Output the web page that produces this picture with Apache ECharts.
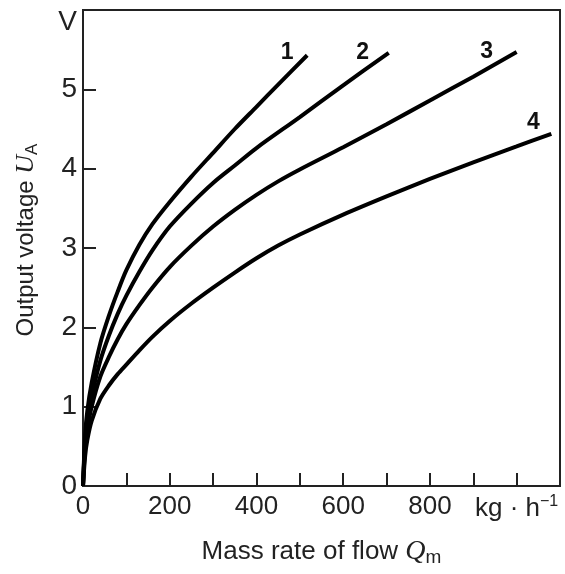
<!DOCTYPE html>
<html>
<head>
<meta charset="utf-8">
<script src="https://cdn.jsdelivr.net/npm/echarts@6/dist/echarts.min.js"></script>
<style>
  html, body { margin: 0; padding: 0; background: #fff; }
  #main { width: 565px; height: 574px; }
</style>
</head>
<body>
<div id="main"></div>
<script>
// mass flow (kg/h) vs output voltage (V)
var curve1 = [[0,0],[5,0.65],[10,0.95],[20,1.3],[40,1.8],[60,2.15],[80,2.45],[100,2.72],[130,3.04],[160,3.3],[200,3.58],[250,3.9],[300,4.2],[350,4.5],[400,4.78],[450,5.06],[517,5.43]];
var curve2 = [[0,0],[5,0.56],[10,0.82],[20,1.13],[40,1.58],[60,1.9],[80,2.17],[100,2.4],[130,2.7],[160,2.97],[200,3.27],[250,3.56],[300,3.82],[350,4.04],[400,4.26],[500,4.65],[600,5.05],[705,5.46]];
var curve3 = [[0,0],[5,0.5],[10,0.72],[20,1.0],[40,1.38],[60,1.63],[80,1.85],[100,2.04],[130,2.28],[160,2.5],[200,2.76],[250,3.03],[300,3.27],[350,3.48],[400,3.67],[450,3.84],[500,3.99],[600,4.27],[700,4.56],[800,4.86],[900,5.16],[1000,5.47]];
var curve4 = [[0,0],[5,0.38],[10,0.58],[20,0.82],[40,1.1],[60,1.27],[80,1.41],[100,1.53],[130,1.71],[160,1.88],[200,2.08],[250,2.3],[300,2.5],[350,2.69],[400,2.87],[450,3.03],[500,3.17],[600,3.42],[700,3.65],[800,3.87],[900,4.08],[1000,4.28],[1080,4.44]];
var curveNames = ['1', '2', '3', '4'];
var labelOffsets = [[-20, -3], [-26, 0], [-30, 0], [-18, -11]];

var myChart = echarts.init(document.getElementById('main'));

function makeSeries(data, i) {
  var last = data[data.length - 1];
  return {
    name: curveNames[i],
    type: 'line',
    data: data,
    smooth: 0.3,
    symbol: 'none',
    lineStyle: { color: '#000', width: 4 },
    markPoint: {
      symbol: 'circle',
      symbolSize: 0,
      label: {
        show: true,
        formatter: curveNames[i],
        color: '#111',
        fontFamily: 'Liberation Sans',
        fontWeight: 'bold',
        fontSize: 23,
        offset: labelOffsets[i]
      },
      data: [{ coord: last }]
    }
  };
}

var option = {
  backgroundColor: '#fff',
  animation: false,
  grid: {
    left: 83,
    right: 5,
    top: 10,
    bottom: 88,
    show: true,
    borderColor: '#222',
    borderWidth: 2
  },
  xAxis: {
    type: 'value',
    min: 0,
    max: 1100,
    interval: 100,
    name: 'Mass rate of flow {q|Q}{s|m}',
    nameLocation: 'middle',
    nameGap: 50,
    nameTextStyle: {
      color: '#222',
      fontFamily: 'Liberation Sans',
      fontSize: 26,
      rich: {
        q: { fontFamily: 'Liberation Serif', fontStyle: 'italic', fontSize: 28, color: '#222' },
        s: { fontFamily: 'Liberation Sans', fontSize: 19, color: '#222', padding: [12, 0, 0, 0] }
      }
    },
    axisLine: { lineStyle: { color: '#222', width: 2 } },
    axisTick: { inside: true, length: 13, lineStyle: { color: '#222', width: 2 } },
    splitLine: { show: false },
    axisLabel: {
      color: '#222',
      fontFamily: 'Liberation Sans',
      fontSize: 26,
      margin: 8,
      showMaxLabel: false,
      formatter: function (v) {
        if (v === 1000) return '{u|kg · h}{e|−1}';
        if (v % 200 === 0 && v < 1000) return String(v);
        return '';
      },
      rich: {
        u: { fontFamily: 'Liberation Sans', fontSize: 26, color: '#222' },
        e: { fontFamily: 'Liberation Sans', fontSize: 16, color: '#222', padding: [0, 0, 14, 0] }
      }
    }
  },
  yAxis: {
    type: 'value',
    min: 0,
    max: 6,
    interval: 1,
    name: 'Output voltage {u|U}{s|A}',
    nameLocation: 'middle',
    nameRotate: 90,
    nameGap: 42,
    nameTextStyle: {
      color: '#222',
      fontFamily: 'Liberation Sans',
      fontSize: 24,
      padding: [0, 0, 0, 16],
      rich: {
        u: { fontFamily: 'Liberation Serif', fontStyle: 'italic', fontSize: 26, color: '#222' },
        s: { fontFamily: 'Liberation Sans', fontSize: 17, color: '#222', padding: [12, 0, 0, 0] }
      }
    },
    axisLine: { lineStyle: { color: '#222', width: 2 } },
    axisTick: { inside: true, length: 13, lineStyle: { color: '#222', width: 2 } },
    splitLine: { show: false },
    axisLabel: {
      color: '#222',
      fontFamily: 'Liberation Sans',
      fontSize: 28,
      margin: 6,
      formatter: function (v) {
        if (v === 6) return '{v|V}';
        return String(v);
      },
      rich: {
        v: { fontFamily: 'Liberation Sans', fontSize: 28, color: '#222', padding: [24, 0, 0, 0] }
      }
    }
  },
  series: [curve1, curve2, curve3, curve4].map(makeSeries)
};

myChart.setOption(option);
</script>
</body>
</html>
